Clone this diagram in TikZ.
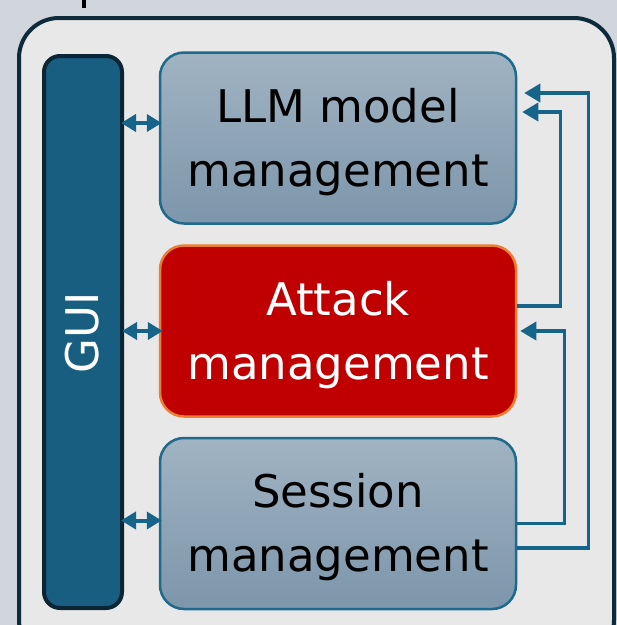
\documentclass[tikz,border=0pt]{standalone}
\usepackage{fontspec}
\setmainfont{DejaVu Sans}
\usetikzlibrary{arrows.meta}
\definecolor{pagebg}{HTML}{D0D6DB}
\definecolor{panelbg}{HTML}{E8E8E8}
\definecolor{panelline}{HTML}{0E2B3B}
\definecolor{guifill}{HTML}{175E80}
\definecolor{guiline}{HTML}{0B2535}
\definecolor{modtop}{HTML}{A0B3C2}
\definecolor{modbot}{HTML}{7D96AB}
\definecolor{modline}{HTML}{1F6A8C}
\definecolor{attackfill}{HTML}{C00000}
\definecolor{attackline}{HTML}{ED7D31}
\definecolor{linkcol}{HTML}{17648A}
\tikzset{
  module/.style={rounded corners=24pt, minimum width=356pt, minimum height=171pt, inner sep=0pt},
  modtext/.style={align=center, font=\fontsize{45}{64}\selectfont, inner sep=0pt},
  plainmod/.style={module, draw=modline, line width=2.5pt, top color=modtop, bottom color=modbot},
  attackmod/.style={module, draw=attackline, line width=2.5pt, fill=attackfill},
  guibar/.style={rounded corners=16pt, minimum width=78pt, minimum height=552pt,
    draw=guiline, line width=4pt, fill=guifill, inner sep=0pt},
  twoway/.style={draw=linkcol, line width=4pt, {Triangle[length=15pt,width=17pt]}-{Triangle[length=15pt,width=17pt]}},
  feed/.style={draw=linkcol, line width=3.5pt, -{Triangle[length=16pt,width=18pt]}},
}
\begin{document}
\begin{tikzpicture}[x=1pt,y=-1pt]
\useasboundingbox (0,0) rectangle (617,625);
\fill[pagebg] (0,0) rectangle (617,625);
\begin{scope}
  \clip (0,0) rectangle (617,625);
  % enclosing panel, running past the lower and right edges
  \draw[panelline, line width=4pt, fill=panelbg, rounded corners=40pt] (19,18) rectangle (614,660);
  % descender of the panel title above
  \fill[black] (82,0) rectangle (86,8);
\end{scope}

\node[guibar] (gui) at (83,332) {};
\node[white, rotate=90, font=\fontsize{45}{50}\selectfont, inner sep=0pt] (guilabel) at (82,333) {GUI};

\node[plainmod] (llm) at (338,138) {};
\node[attackmod] (attack) at (338,331) {};
\node[plainmod] (session) at (338,523.5) {};

% module captions, set a little below the box centres
\node[modtext, text=black] (llmtext) at ([yshift=-4pt]llm.center) {LLM model\\management};
\node[modtext, text=white] (attacktext) at ([yshift=-4pt]attack.center) {Attack\\management};
\node[modtext, text=black] (sestext) at ([yshift=-4pt]session.center) {Session\\management};

% port points on the module edges
\coordinate (llmin) at ([xshift=3pt,yshift=15pt]llm.west);
\coordinate (attin) at ([xshift=4pt]attack.west);
\coordinate (sesin) at ([xshift=3pt,yshift=3pt]session.west);
\coordinate (llmfbA) at ([xshift=7pt,yshift=45pt]llm.east);
\coordinate (llmfbB) at ([xshift=5pt,yshift=26pt]llm.east);
\coordinate (attfb) at ([xshift=3pt]attack.east);
\coordinate (sesout) at ([yshift=-24.5pt]session.east);
\coordinate (attout) at ([yshift=25pt]attack.east);

% GUI links
\draw[twoway] ([xshift=-3pt]gui.east |- llmin) -- (llmin);
\draw[twoway] ([xshift=-2pt]gui.east |- attin) -- (attin);
\draw[twoway] ([xshift=-3pt]gui.east |- sesin) -- (sesin);

% feedback paths on the right
\draw[feed] (sesout) -| ([xshift=64pt]llmfbA) -- (llmfbA);
\draw[feed] (attout) -| ([xshift=38pt]llmfbB) -- (llmfbB);
\draw[feed] (session.east) -| ([xshift=44pt]attfb) -- (attfb);
\end{tikzpicture}
\end{document}
